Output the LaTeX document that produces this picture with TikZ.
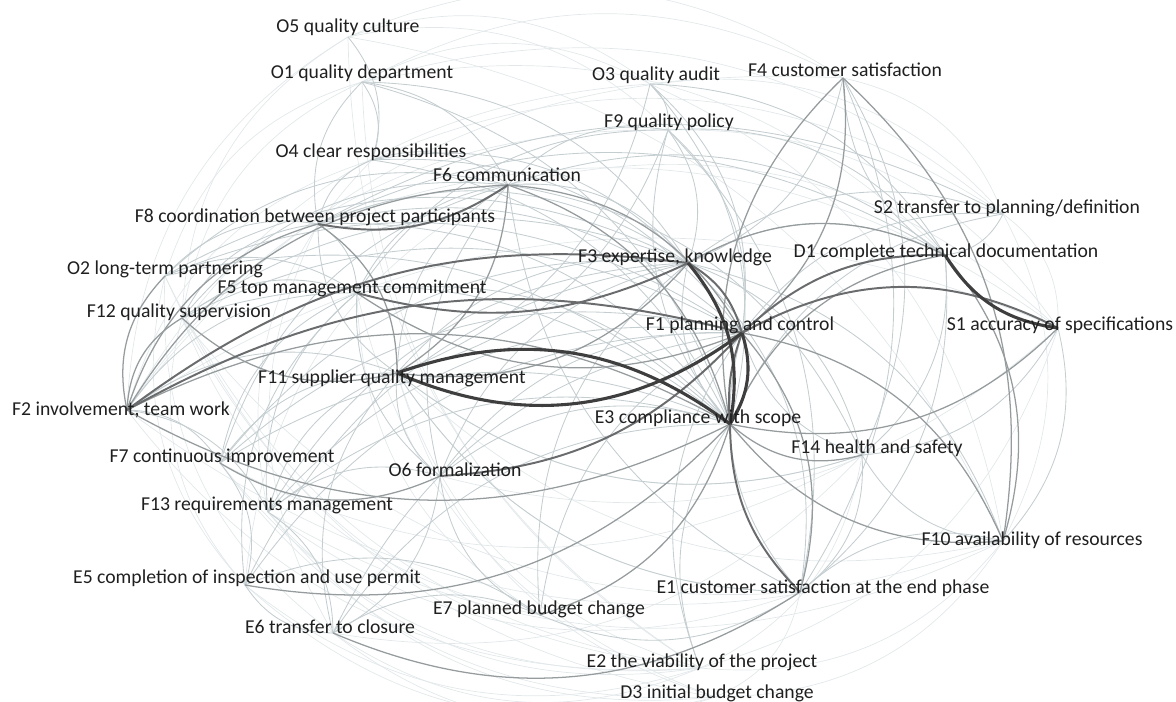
\documentclass[tikz,border=0pt]{standalone}
\usepackage{fontspec}
\setmainfont{Carlito}
\usetikzlibrary{positioning}

\definecolor{edgeA}{RGB}{226,232,234}
\definecolor{edgeB}{RGB}{196,205,208}
\definecolor{edgeC}{RGB}{150,156,158}
\definecolor{edgeD}{RGB}{105,107,109}
\definecolor{edgeE}{RGB}{62,62,62}

\begin{document}
\begin{tikzpicture}[x=0.025cm, y=-0.025cm,
  lbl/.style={font=\fontsize{14}{16}\selectfont, inner sep=0pt, text=black!88},
  faint/.style={draw=edgeA, line width=0.5pt, bend left=28},
  light/.style={draw=edgeB, line width=0.6pt, bend left=28},
  mid/.style={draw=edgeC, line width=0.9pt, bend left=28},
  dark/.style={draw=edgeD, line width=1.4pt, bend left=22},
  heavy/.style={draw=edgeE, line width=2.2pt, bend left=25}]
  \useasboundingbox (0,0) rectangle (1176,702);

  % vertices
  \foreach \n/\x/\y in {o5/348/37, o1/362/82, o4/372/160, f6/508/185,
      f8/318/224, o3/650/84, f4/843/78, f9/668/130, s2/1003/214,
      d1/945/255, s1/1058/328, f3/688/263, f1/742/333, e3/730/424,
      f14/862/455, f10/1003/541, e1/800/592, e2/700/668, d3/715/697,
      e7/540/615, e6/333/633, e5/245/585, f13/268/512, f7/220/463,
      o6/440/476, f2/127/410, f11/397/373, f12/182/318, o2/165/276,
      f5/357/293}
    \coordinate (\n) at (\x,\y);

  % background web
  \foreach \a/\b in {o5/f4, e2/o5, e2/o1, o1/s2, o3/s2, f9/s1, o3/f10,
      o5/f10, e2/o2, d3/o2, e2/f12, e2/f2, e2/e5, e2/e6, d3/e6, d3/e5,
      f10/e2, f10/d3, s1/e2, e1/d3, f14/e2, e2/f13, d3/f7, e5/f12,
      e5/o2, e6/o2, e6/f8, e5/f6, f13/o4, f2/o4, f2/o5, f12/o1, f2/o3,
      f2/f9, f2/f4, o1/f4, o4/s2, o1/d1, f6/s1, f8/s1, f2/s1, f10/f2,
      f10/f13, f14/f7, f14/e6, e1/f13, e1/f12, e2/f11, d3/f11, d3/f5,
      e7/f5, e7/f12, s1/o6, f14/f11, f10/f11, e1/f11, o5/o3, o5/f9,
      o1/o3, f12/o5, o2/o1, d3/f13, e2/f7, s2/f10, s2/s1, f4/s2}
    \draw[faint] (\a) to (\b);

  \foreach \a/\b in {o5/o4, o1/o4, o1/f6, o4/f6, f8/o4, f8/o1, o3/f9,
      o3/f1, f9/f3, f9/f11, e3/f9, o3/e3, d1/f4, f4/e1, s2/d1, f3/s2,
      f1/s2, e3/s2, f6/d1, f8/d1, f3/d1, f8/f3, f6/f3, f11/f3, o6/f3,
      f7/f3, f12/f1, o2/f1, f7/f1, f13/f1, e5/f1, e7/f1, e1/f1, e6/e3,
      f13/e3, f7/e3, f12/e3, o2/e3, f5/e3, e2/e3, e1/e7, f14/e1,
      e1/f10, f10/f14, s1/f10, s1/f14, f14/f1, f2/f11, f7/f11,
      f13/f11, e6/f11, o6/f11, f2/f5, f12/f5, o2/f5, f5/f6, f8/f5,
      f11/f6, o6/f6, f2/f7, f2/f13, e6/e5, f7/e5, f13/e6, e6/e7,
      e5/e7, e7/o6, f13/o6, o6/e6, f8/s2, f3/e1, f3/f10, f3/f14,
      e2/f1, e6/f1, o4/e3, o1/e3, o4/f1, o4/f3, o1/f3, f6/f14, e1/f6,
      e1/f11, f14/f11, f8/e3, f8/f1, o2/f3, f12/f3, f13/f3, e5/f3,
      o6/e3, o6/f1, e7/f3, f9/f1, f9/e1, o3/f11, f4/f3, f9/d1, o3/d1,
      f12/f6, o2/f6, o2/f8, f12/f8, f7/f6, f13/f5, f7/f5, e5/f5,
      o6/f5, f11/f8, f5/f9, f6/f9, f4/f14, e3/f3, d1/e1, d1/f14}
    \draw[light] (\a) to (\b);

  \foreach \a/\b in {e3/f4, f4/f10, s1/e3, d1/f10, f1/f10, f10/e3,
      f14/e3, e3/e7, o6/f7, e3/d1, f6/e3, f6/f1, f11/f12, e3/e5,
      e1/e6, e3/f2, f2/f8, f2/f6, f4/f1, f2/e3, f1/f5, f3/d1, f1/e1,
      f8/f11, f6/f11, f2/f12, f2/o2, f3/f11}
    \draw[mid] (\a) to (\b);

  \foreach \a/\b in {f3/f1, f1/d1, e1/e3, f1/o6, f6/f8, f2/f3, f2/f1}
    \draw[dark] (\a) to (\b);
  \draw[dark, bend left=12] (e3) to (f1);
  \draw[dark, bend left=28] (f1) to (s1);
  \draw[dark, bend left=20] (f3) to (f5);

  \draw[heavy] (f3) to (e3);
  \draw[heavy] (f1) to (e3);
  \draw[heavy, bend left=30] (f1) to (f11);
  \draw[heavy, bend left=28] (f11) to (e3);
  \draw[heavy] (s1) to (d1);

  % labels
  \foreach \n/\x/\y/\t in {o5/348/27/O5 quality culture,
      o1/362/73/O1 quality department,
      o4/371/152/O4 clear responsibilities,
      f6/507/175/F6 communication,
      f8/315/217/F8 coordination between project participants,
      o3/656/75/O3 quality audit,
      f4/845/70/F4 customer satisfaction,
      f9/669/122/F9 quality policy,
      s2/1007/208/{S2 transfer to planning/definition},
      d1/946/252/D1 complete technical documentation,
      s1/1060/325/S1 accuracy of specifications,
      f3/675/257/{F3 expertise, knowledge},
      f1/740/325/F1 planning and control,
      e3/698/418/E3 compliance with scope,
      f14/877/448/F14 health and safety,
      f10/1032/540/F10 availability of resources,
      e1/823/588/E1 customer satisfaction at the end phase,
      e2/702/662/E2 the viability of the project,
      d3/717/693/D3 initial budget change,
      e7/539/609/E7 planned budget change,
      e6/330/627/E6 transfer to closure,
      e5/247/578/E5 completion of inspection and use permit,
      f13/267/505/F13 requirements management,
      f7/222/457/F7 continuous improvement,
      o6/455/470/O6 formalization,
      f2/121/410/{F2 involvement, team work},
      f11/392/378/F11 supplier quality management,
      f12/179/312/F12 quality supervision,
      o2/165/269/O2 long-term partnering,
      f5/352/288/F5 top management commitment}
    \node[lbl] (\n-l) at (\x,\y) {\t};
\end{tikzpicture}
\end{document}
